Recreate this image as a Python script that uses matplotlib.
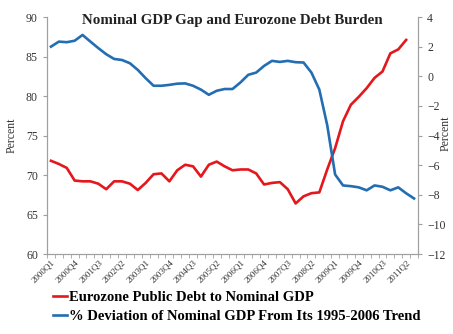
import matplotlib
matplotlib.use("Agg")
import matplotlib.pyplot as plt
import numpy as np

# quarterly categories 2000Q1 .. 2011Q3
quarters = [f"{y}Q{q}" for y in range(2000, 2012) for q in range(1, 5)][:47]

debt = [71.8, 71.4, 70.9, 69.3, 69.2, 69.2, 68.9, 68.2, 69.2, 69.2,
        68.9, 68.1, 69.0, 70.1, 70.2, 69.2, 70.6, 71.3, 71.1, 69.8,
        71.3, 71.7, 71.1, 70.6, 70.7, 70.7, 70.2, 68.8, 69.0, 69.1,
        68.2, 66.4, 67.3, 67.7, 67.8, 70.7, 73.4, 76.8, 78.9, 79.9,
        81.0, 82.3, 83.1, 85.4, 85.9, 87.1]

gap = [2.0, 2.34, 2.3, 2.4, 2.79, 2.34, 1.9, 1.49, 1.17, 1.1,
       0.88, 0.43, -0.13, -0.64, -0.64, -0.58, -0.5, -0.48, -0.64, -0.9,
       -1.25, -0.98, -0.86, -0.86, -0.42, 0.1, 0.25, 0.7, 1.04, 0.97,
       1.04, 0.95, 0.93, 0.25, -0.9, -3.3, -6.63, -7.37, -7.42, -7.5,
       -7.7, -7.37, -7.46, -7.7, -7.5, -7.9, -8.25]

red = "#e3171c"
blue = "#236db3"
grey = "#a0a0a0"
serif = "Liberation Serif"

fig = plt.figure(figsize=(4.53, 3.34), dpi=100)
ax = fig.add_axes([0.1038, 0.2395, 0.8189, 0.7095])
ax2 = ax.twinx()

l1, = ax.plot(range(len(debt)), debt, color=red, lw=1.9,
              label="Eurozone Public Debt to Nominal GDP")
l2, = ax2.plot(range(len(gap)), gap, color=blue, lw=1.9,
               label="% Deviation of Nominal GDP From Its 1995-2006 Trend")

ax.set_xlim(-0.5, len(quarters) - 0.5)
ax.set_ylim(60, 90)
ax2.set_ylim(-12, 4)
ax.set_yticks(range(60, 91, 5))
ax2.set_yticks(range(-12, 5, 2))

ax.set_xticks(range(0, len(quarters), 3))
ax.set_xticklabels(quarters[::3], rotation=45, ha="right",
                   rotation_mode="anchor", fontsize=6.5, family=serif,
                   color="#333333")
ax.set_xticks(np.arange(-0.5, len(quarters), 1), minor=True)
ax.tick_params(axis="x", which="major", length=0, pad=3)
ax.tick_params(axis="x", which="minor", length=3, color=grey)

for a in (ax, ax2):
    a.spines["top"].set_visible(False)
    for s in ("left", "right", "bottom"):
        a.spines[s].set_color(grey)
        a.spines[s].set_linewidth(0.8)
    a.tick_params(axis="y", length=3, color=grey, labelsize=8.5,
                  labelcolor="#333333")
for lab in ax.get_yticklabels() + ax2.get_yticklabels():
    lab.set_family(serif)

ax.set_ylabel("Percent", family=serif, fontsize=8.5, color="#333333", labelpad=6)
fig.text(0.984, 0.6, "Percent", rotation=90, family=serif, fontsize=8.5,
         color="#333333", ha="center", va="center")

ax.text(0.5, 0.985, "Nominal GDP Gap and Eurozone Debt Burden",
        transform=ax.transAxes, ha="center", va="center",
        fontsize=10.8, fontweight="bold", family=serif, color="#222222")

fig.legend(handles=[l1, l2], loc="upper left", bbox_to_anchor=(0.105, 0.148),
           frameon=False, handlelength=0.9, handletextpad=0.15,
           labelspacing=0.45, borderaxespad=0,
           prop={"family": serif, "weight": "bold", "size": 10.5})

fig.savefig("out.png", dpi=100)
